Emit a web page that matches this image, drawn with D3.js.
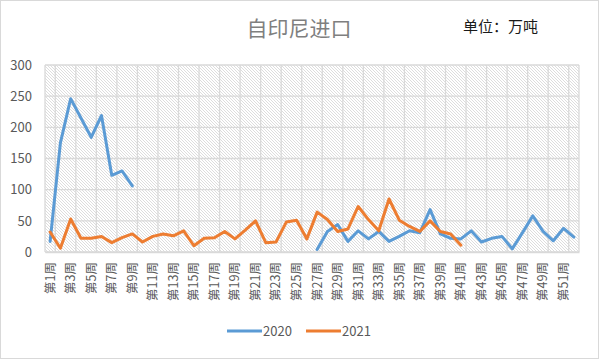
<!DOCTYPE html>
<html><head><meta charset="utf-8">
<script src="https://cdn.jsdelivr.net/npm/d3@7"></script>
<style>
html,body{margin:0;padding:0;background:#fff;}
svg{display:block;}
</style></head>
<body><div id="chart"></div>
<script>
const title = "自印尼进口";
const unitLabel = "单位：万吨";
const weeks = d3.range(1, 53).map(i => "第" + i + "周");
const seriesNames = ["2020", "2021"];
const values2020 = [17,175,246,215,184,219,123,130,106,
  null,null,null,null,null,null,null,null,null,null,null,null,null,null,null,null,null,
  4,33,44,17,34,21,33,17,25,34,31,68,29,22,21,34,16,22,25,5,31,58,33,18,38,24];
const values2021 = [32,6,53,22,22,25,15,23,29,16,25,29,26,34,10,22,23,33,21,35,50,15,16,48,51,21,
  64,52,33,37,73,52,34,85,51,41,33,50,33,29,11];
const yTicks = [0,50,100,150,200,250,300];
const colors = ["#5b9bd5", "#ed7d31"];

const W = 599, H = 359;
const m = {left:45, right:20, top:65, bottom:107};
const svg = d3.select("#chart").append("svg").attr("width", W).attr("height", H);
const font = "'Noto Sans CJK SC', 'Liberation Sans', sans-serif";

svg.append("rect").attr("x",0.5).attr("y",0.5).attr("width",W-1).attr("height",H-1)
  .attr("fill","#fff").attr("stroke","#d9d9d9");

const defs = svg.append("defs");
const pat = defs.append("pattern").attr("id","hatch").attr("patternUnits","userSpaceOnUse")
  .attr("width",3).attr("height",3);
pat.append("rect").attr("width",3).attr("height",3).attr("fill","#fff");
pat.append("path").attr("d","M-1,-1 L4,4 M-1,2 L1,4 M2,-1 L4,1")
  .attr("stroke","#d4d4d4").attr("stroke-width",0.8);

const x = d3.scaleBand().domain(weeks).range([m.left, W - m.right]).padding(0);
const y = d3.scaleLinear().domain([0,300]).range([H - m.bottom, m.top]);
const bw = x.bandwidth();

const pl = m.left, pr = W - m.right, pt = y(300), pb = y(0);
svg.append("rect").attr("x",pl).attr("y",pt).attr("width",pr-pl).attr("height",pb-pt)
  .attr("fill","url(#hatch)");

// horizontal gridlines
svg.append("g").selectAll("line").data(yTicks).join("line")
  .attr("x1",pl).attr("x2",pr).attr("y1",d=>y(d)).attr("y2",d=>y(d))
  .attr("stroke","#d9d9d9").attr("stroke-width",1.3);
// vertical gridlines at every other category boundary
const vIdx = d3.range(1, weeks.length, 2);
svg.append("g").selectAll("line").data(vIdx).join("line")
  .attr("x1",i=>x(weeks[i-1])+bw).attr("x2",i=>x(weeks[i-1])+bw)
  .attr("y1",pt).attr("y2",pb).attr("stroke","#d9d9d9").attr("stroke-width",1.3);
svg.append("line").attr("x1",pr).attr("x2",pr).attr("y1",pt).attr("y2",pb)
  .attr("stroke","#d9d9d9").attr("stroke-width",1.3);
svg.append("line").attr("x1",pl).attr("x2",pl).attr("y1",pt).attr("y2",pb)
  .attr("stroke","#d9d9d9").attr("stroke-width",1.3);

// y axis
const yAxis = svg.append("g").attr("transform",`translate(${pl},0)`)
  .call(d3.axisLeft(y).tickValues(yTicks).tickSize(0).tickPadding(13));
yAxis.select(".domain").remove();
yAxis.selectAll("text").attr("font-family",font).attr("font-size",13).attr("fill","#595959");

// x axis
const xAxis = svg.append("g").attr("transform",`translate(0,${pb})`)
  .call(d3.axisBottom(x).tickValues(weeks.filter((d,i)=>i%2===0)).tickSize(0));
xAxis.select(".domain").attr("stroke","#d9d9d9").attr("stroke-width",1.3);
xAxis.selectAll("text").attr("font-family",font).attr("font-size",12.5).attr("fill","#595959")
  .attr("transform","rotate(-90)").attr("text-anchor","end")
  .attr("x",-10).attr("y",0).attr("dy","0.35em");

// lines
const line = d3.line().defined(d=>d!=null)
  .x((d,i)=>x(weeks[i]) + bw/2).y(d=>y(d));
[values2020, values2021].forEach((vals, k) => {
  svg.append("path").datum(vals).attr("d", line).attr("fill","none")
    .attr("stroke", colors[k]).attr("stroke-width", 3)
    .attr("stroke-linejoin","round").attr("stroke-linecap","round");
});

// title
svg.append("text").attr("x",299).attr("y",36).attr("text-anchor","middle")
  .attr("font-family",font).attr("font-size",21).attr("fill","#7f7f7f").text(title);
svg.append("text").attr("x",463).attr("y",32)
  .attr("font-family",font).attr("font-size",15).attr("fill","#1a1a1a").text(unitLabel);

// legend
const lg = svg.append("g");
const lx = [227, 306];
seriesNames.forEach((n,k)=>{
  lg.append("line").attr("x1",lx[k]).attr("x2",lx[k]+35).attr("y1",331).attr("y2",331)
    .attr("stroke",colors[k]).attr("stroke-width",3);
  lg.append("text").attr("x",lx[k]+36).attr("y",331).attr("dy","0.35em")
    .attr("font-family",font).attr("font-size",13).attr("fill","#595959").text(n);
});
</script>
</body></html>
